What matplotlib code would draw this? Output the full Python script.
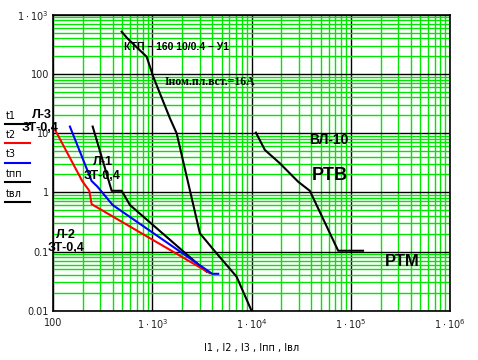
import matplotlib
matplotlib.use('Agg')
import matplotlib.pyplot as plt
from matplotlib import font_manager
from matplotlib.ticker import LogLocator, FixedLocator, NullFormatter

# time-current curves
I1 = [251, 390, 492, 596, 3530]
t1 = [12.9, 1.06, 1.06, 0.61, 0.0456]

I2 = [105, 197, 232, 245, 3810]
t2 = [11.3, 1.55, 1.06, 0.63, 0.043]

I3 = [148, 245, 280, 399, 4020, 4620]
t3 = [12.9, 1.55, 1.25, 0.61, 0.042, 0.042]

Ipp = [492, 560, 878, 1023, 1507, 1762, 3020, 4450, 7080, 10000]
tpp = [516, 400, 195, 89.7, 17.8, 9.9, 0.203, 0.093, 0.0375, 0.01]

Ivl = [11070, 13640, 19300, 29500, 38700, 74700, 133000]
tvl = [10.2, 5.19, 3.09, 1.51, 1.06, 0.103, 0.103]

xticks = [100, 1e3, 1e4, 1e5, 1e6]
xlabels = ['100', r'$1\cdot10^{3}$', r'$1\cdot10^{4}$', r'$1\cdot10^{5}$', r'$1\cdot10^{6}$']
yticks = [0.01, 0.1, 1, 10, 100, 1000]
ylabels = ['0.01', '0.1', '1', '10', '100', r'$1\cdot10^{3}$']

# narrow font for the title if there is one
names = set(f.name for f in font_manager.fontManager.ttflist)
narrow = 'Liberation Sans'
for n in ['Liberation Sans Narrow', 'DejaVu Sans Condensed']:
    if n in names:
        narrow = n
        break

W, H = 478, 360
fig = plt.figure(figsize=(W/100, H/100), dpi=100)
ax = fig.add_axes([53/W, 1-310.7/H, (450-53)/W, (310.7-14.7)/H])
ax.set_xscale('log')
ax.set_yscale('log')
ax.set_xlim(100, 1e6)
ax.set_ylim(0.01, 1000)

ax.xaxis.set_major_locator(FixedLocator(xticks))
ax.yaxis.set_major_locator(FixedLocator(yticks))
ax.xaxis.set_minor_locator(LogLocator(base=10, subs=range(2, 10), numticks=20))
ax.yaxis.set_minor_locator(LogLocator(base=10, subs=range(2, 10), numticks=20))
ax.xaxis.set_minor_formatter(NullFormatter())
ax.yaxis.set_minor_formatter(NullFormatter())
ax.set_xticklabels(xlabels)
ax.set_yticklabels(ylabels)
ax.tick_params(which='both', length=0, labelsize=7, colors='#202020', pad=3)
ax.tick_params(axis='x', pad=5)
ax.grid(which='minor', color='#00e600', lw=1)
ax.grid(which='major', color='black', lw=1)
ax.set_axisbelow(True)
for s in ax.spines.values():
    s.set_linewidth(1.2)

ax.plot(I1, t1, color='black', lw=1.5)
ax.plot(I2, t2, color='red', lw=1.5)
ax.plot(I3, t3, color='blue', lw=1.5)
ax.plot(Ipp, tpp, color='black', lw=1.5)
ax.plot(Ivl, tvl, color='black', lw=1.5)

ax.set_xlabel('I1 , I2 , I3 , Iпп , Iвл', fontsize=7, labelpad=8)

# legend on the left
leg = [('t1', 'black', 116, 124), ('t2', 'red', 135, 143), ('t3', 'blue', 154, 163),
       ('tпп', 'black', 174, 182), ('tвл', 'black', 194, 202)]
for name, c, ty, ly in leg:
    fig.text(6/W, 1-ty/H, name, fontsize=7, va='center', ha='left')
    fig.add_artist(plt.Line2D([5/W, 30/W], [1-ly/H, 1-ly/H], color=c, lw=1.5,
                              transform=fig.transFigure))

def lbl(x, y, s, size=9, family='Liberation Sans', weight='bold', ha='center'):
    fig.text(x/W, 1-y/H, s, fontsize=size, family=family, weight=weight,
             ha=ha, va='center')

if narrow == 'Liberation Sans':
    lbl(176, 47, 'КТП – 160 10/0.4 – У1', size=7.5, family=narrow)
else:
    lbl(176, 47, 'КТП – 160 10/0.4 – У1', size=10, family=narrow)
lbl(210, 82, 'Iном.пл.вст.=16А', size=8.5, family='Liberation Serif')
lbl(42, 115, 'Л-3')
lbl(40, 128, 'ЗТ-0,4')
lbl(103, 162, 'Л-1')
lbl(102, 176, 'ЗТ-0,4')
lbl(66, 235, 'Л-2')
lbl(66, 248, 'ЗТ-0,4')
lbl(329, 140, 'ВЛ-10', size=10)
lbl(330, 176, 'РТВ', size=13)
lbl(402, 261, 'РТМ', size=12)

fig.savefig('out.png', dpi=100)
